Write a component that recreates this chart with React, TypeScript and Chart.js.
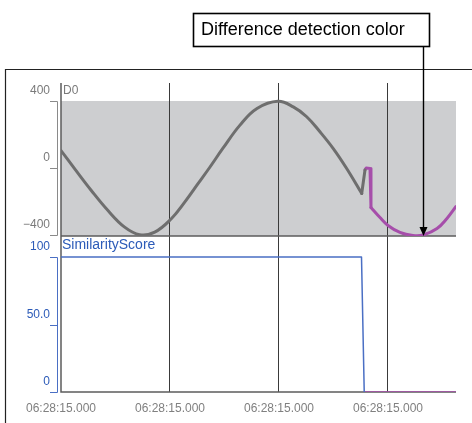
import React, { useEffect, useRef } from 'react';
import { Chart, registerables } from 'chart.js';

Chart.register(...registerables);

// x positions are in tick units (one unit per time tick)
const X_TICKS = [0, 1, 2, 3];
const X_TICK_LABELS = ['06:28:15.000', '06:28:15.000', '06:28:15.000', '06:28:15.000'];
const X_MAX = 3.624;

// D0 signal (normal part, smooth)
const D0_X = [0, 0.126, 0.278, 0.431, 0.584, 0.722, 0.86, 1.012, 1.135, 1.257, 1.367, 1.486, 1.642, 1.798, 1.99, 2.131, 2.254, 2.376, 2.498, 2.621, 2.759];
const D0_Y = [104, -5, -134, -254, -353, -398, -383, -303, -204, -94, 6, 118, 256, 355, 398, 365, 306, 216, 116, -3, -152];
// D0 signal (normal part, sharp rise)
const D0_JUMP_X = [2.759, 2.789];
const D0_JUMP_Y = [-152, -12];

// D0 signal (difference detected part): hook, then smooth curve
const D0_HOOK_X = [2.789, 2.8, 2.835, 2.844];
const D0_HOOK_Y = [-12, 0, -3, -236];
const D0_DIFF_X = [2.844, 2.927, 3.0, 3.11, 3.229, 3.321, 3.45, 3.541, 3.624];
const D0_DIFF_Y = [-236, -296, -343, -385, -403, -400, -361, -301, -230];

// Similarity score
const SCORE_X = [0, 2.757, 2.782];
const SCORE_Y = [100, 100, 0];
const SCORE_DIFF_X = [2.782, 3.624];
const SCORE_DIFF_Y = [0, 0];

const D0_TICKS = [400, 0, -400];
const D0_TICK_LABELS = ['400', '0', '\u2212400'];
const SCORE_TICKS = [100, 50, 0];
const SCORE_TICK_LABELS = ['100', '50.0', '0'];

const D0_LABEL = 'D0';
const SCORE_LABEL = 'SimilarityScore';
const CALLOUT_TEXT = 'Difference detection color';
const CALLOUT_TARGET_X = 3.32;
const CALLOUT_TARGET_Y = -400;

const GRAY_LINE = '#6e6e6e';
const DIFF_COLOR = '#a64eaa';
const BLUE = '#4a6fc4';
const BLUE_TEXT = '#2c5bb8';
const FONT = '"Liberation Sans", Arial, sans-serif';

const zip = (xs: number[], ys: number[]) => xs.map((x, i) => ({ x, y: ys[i] }));

const line = (label: string, xs: number[], ys: number[], axis: string, color: string, width: number, tension: number) => ({
  label,
  data: zip(xs, ys),
  yAxisID: axis,
  borderColor: color,
  borderWidth: width,
  borderJoinStyle: 'round',
  borderCapStyle: 'round',
  pointRadius: 0,
  tension,
});

const deco = {
  id: 'deco',
  beforeDraw(chart: any) {
    const { ctx, chartArea: ca, scales } = chart;
    const y = scales.y;
    const top = y.getPixelForValue(D0_TICKS[0]);
    ctx.save();
    ctx.fillStyle = '#cdced0';
    ctx.fillRect(ca.left, top, ca.right - ca.left, y.bottom - top);
    ctx.restore();
  },
  beforeDatasetsDraw(chart: any) {
    const { ctx, chartArea: ca, scales } = chart;
    const y = scales.y;
    const y2 = scales.y2;
    ctx.save();
    ctx.strokeStyle = '#5c5c5c';
    ctx.lineWidth = 1.5;
    ctx.beginPath();
    ctx.moveTo(ca.left, ca.top);
    ctx.lineTo(ca.left, ca.bottom);
    ctx.lineTo(ca.right, ca.bottom);
    ctx.moveTo(ca.left, y.bottom);
    ctx.lineTo(ca.right, y.bottom);
    ctx.stroke();

    const bracket = (scale: any, ticks: number[], color: string) => {
      const bx = ca.left - 4;
      const tx = ca.left - 11;
      const pts = ticks.map((t) => Math.round(scale.getPixelForValue(t)) + 0.5);
      ctx.strokeStyle = color;
      ctx.lineWidth = 1;
      ctx.beginPath();
      ctx.moveTo(bx + 0.5, Math.min(...pts));
      ctx.lineTo(bx + 0.5, Math.max(...pts));
      pts.forEach((p) => {
        ctx.moveTo(tx, p);
        ctx.lineTo(bx + 0.5, p);
      });
      ctx.stroke();
    };
    bracket(y, D0_TICKS, '#8a8a8a');
    bracket(y2, SCORE_TICKS, BLUE);
    ctx.restore();
  },
  afterDraw(chart: any) {
    const { ctx, chartArea: ca, scales } = chart;
    const y = scales.y;
    const y2 = scales.y2;
    const x = scales.x;
    ctx.save();
    ctx.textBaseline = 'middle';
    ctx.textAlign = 'left';
    ctx.fillStyle = '#7a7a7a';
    ctx.font = `12px ${FONT}`;
    ctx.fillText(D0_LABEL, ca.left + 2, y.top + 8);
    ctx.fillStyle = BLUE_TEXT;
    ctx.font = `14px ${FONT}`;
    ctx.fillText(SCORE_LABEL, ca.left + 1, y2.top + 9);

    // outer frame
    ctx.strokeStyle = '#222';
    ctx.lineWidth = 1.2;
    ctx.beginPath();
    ctx.moveTo(5.5, chart.height);
    ctx.lineTo(5.5, 69.5);
    ctx.lineTo(chart.width, 69.5);
    ctx.stroke();

    // callout
    ctx.strokeStyle = '#000';
    ctx.lineWidth = 1.6;
    ctx.strokeRect(193.5, 13.5, 236, 33);
    ctx.fillStyle = '#000';
    ctx.font = `18px ${FONT}`;
    ctx.fillText(CALLOUT_TEXT, 201, 30.5);

    const ax = Math.round(x.getPixelForValue(CALLOUT_TARGET_X)) + 0.5;
    const ay = y.getPixelForValue(CALLOUT_TARGET_Y);
    ctx.lineWidth = 1.4;
    ctx.beginPath();
    ctx.moveTo(ax, 46.5);
    ctx.lineTo(ax, ay - 6);
    ctx.stroke();
    ctx.beginPath();
    ctx.moveTo(ax, ay + 1);
    ctx.lineTo(ax - 4, ay - 8);
    ctx.lineTo(ax + 4, ay - 8);
    ctx.closePath();
    ctx.fill();
    ctx.restore();
  },
};

export default function App() {
  const ref = useRef<HTMLCanvasElement | null>(null);
  useEffect(() => {
    if (!ref.current) return;
    const chart = new Chart(ref.current, {
      type: 'line',
      data: {
        datasets: [
          line('D0', D0_X, D0_Y, 'y', GRAY_LINE, 3, 0.4),
          line('D0 rise', D0_JUMP_X, D0_JUMP_Y, 'y', GRAY_LINE, 3, 0),
          line('D0 diff hook', D0_HOOK_X, D0_HOOK_Y, 'y', DIFF_COLOR, 3, 0),
          line('D0 diff', D0_DIFF_X, D0_DIFF_Y, 'y', DIFF_COLOR, 3, 0.4),
          line('SimilarityScore', SCORE_X, SCORE_Y, 'y2', BLUE, 1.5, 0),
          line('SimilarityScore diff', SCORE_DIFF_X, SCORE_DIFF_Y, 'y2', DIFF_COLOR, 1.5, 0),
        ],
      } as any,
      options: {
        animation: false,
        responsive: false,
        events: [],
        layout: { padding: { top: 83, right: 16, left: 0, bottom: 0 } },
        plugins: { legend: { display: false }, tooltip: { enabled: false } },
        scales: {
          x: {
            type: 'linear',
            min: 0,
            max: X_MAX,
            afterBuildTicks: (s: any) => {
              s.ticks = X_TICKS.map((v) => ({ value: v }));
            },
            afterFit: (s: any) => {
              s.height = 31;
            },
            border: { display: false },
            grid: {
              drawTicks: false,
              color: (c: any) => (c.tick && c.tick.value === 0 ? 'rgba(0,0,0,0)' : '#3a3a3a'),
              lineWidth: 1,
            },
            ticks: {
              padding: 9,
              maxRotation: 0,
              autoSkip: false,
              color: '#808080',
              font: { family: FONT, size: 12 },
              callback: (_v: any, i: number) => X_TICK_LABELS[i],
            },
          },
          y: {
            type: 'linear',
            position: 'left',
            stack: 'panels',
            stackWeight: 153,
            weight: 2,
            min: -406,
            max: 507.5,
            afterBuildTicks: (s: any) => {
              s.ticks = D0_TICKS.map((v) => ({ value: v }));
            },
            afterFit: (s: any) => {
              s.width = 61;
            },
            border: { display: false },
            grid: { display: false, drawTicks: false },
            ticks: {
              padding: 11,
              labelOffset: -10,
              color: '#7a7a7a',
              font: { family: FONT, size: 12 },
              callback: (_v: any, i: number) => D0_TICK_LABELS[i],
            },
          },
          y2: {
            type: 'linear',
            position: 'left',
            stack: 'panels',
            stackWeight: 156,
            weight: 1,
            min: 0,
            max: 115.6,
            afterBuildTicks: (s: any) => {
              s.ticks = SCORE_TICKS.map((v) => ({ value: v }));
            },
            afterFit: (s: any) => {
              s.width = 61;
            },
            border: { display: false },
            grid: { display: false, drawTicks: false },
            ticks: {
              padding: 11,
              labelOffset: -10,
              color: BLUE_TEXT,
              font: { family: FONT, size: 12 },
              callback: (_v: any, i: number) => SCORE_TICK_LABELS[i],
            },
          },
        },
      } as any,
      plugins: [deco],
    });
    return () => chart.destroy();
  }, []);

  return (
    <div style={{ position: 'fixed', left: 0, top: 0, width: 472, height: 423, background: '#fff' }}>
      <canvas ref={ref} width={472} height={423} style={{ display: 'block' }} />
    </div>
  );
}
